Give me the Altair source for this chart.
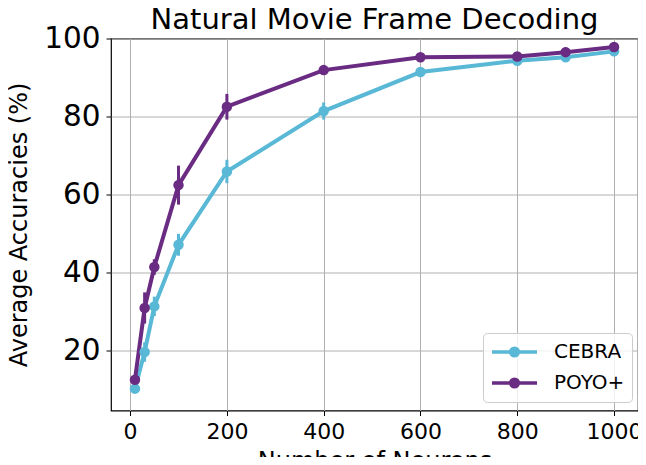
import altair as alt
import pandas as pd

neurons = [10, 30, 50, 100, 200, 400, 600, 800, 900, 1000]
cebra_mean = [10.3, 19.7, 31.4, 47.2, 66.0, 81.5, 91.5, 94.4, 95.3, 96.8]
cebra_err = [0.8, 2.5, 2.5, 2.8, 3.0, 2.2, 1.0, 0.8, 1.0, 0.8]
poyo_mean = [12.6, 31.0, 41.5, 62.5, 82.6, 92.0, 95.3, 95.5, 96.6, 97.9]
poyo_err = [1.0, 4.0, 2.0, 5.0, 3.3, 1.0, 0.5, 0.5, 1.2, 0.8]
models = ["CEBRA", "POYO+"]
colors = ["#58b8d5", "#6a2b82"]

rows = []
for m, means, errs in [("CEBRA", cebra_mean, cebra_err), ("POYO+", poyo_mean, poyo_err)]:
    for n, v, e in zip(neurons, means, errs):
        rows.append({"model": m, "n": n, "acc": v, "err": e})
df = pd.DataFrame(rows)

FONT = "DejaVu Sans"

legend_symbol = "M-1,0L1,0M0.17,0A0.17,0.17,0,1,1,-0.17,0A0.17,0.17,0,1,1,0.17,0Z"

xs = alt.Scale(domain=[-39.5, 1049.5], nice=False, zero=False)
ys = alt.Scale(domain=[4.7, 100.1], nice=False, zero=False)
cs = alt.Scale(domain=models, range=colors)

base = alt.Chart(df)

x_enc = alt.X("n:Q", scale=xs, title="Number of Neurons",
              axis=alt.Axis(values=[0, 200, 400, 600, 800, 1000], labelFontSize=22,
                            titleFontSize=24, labelPadding=6, titlePadding=7,
                            grid=True, format="d"))
y_enc = alt.Y("acc:Q", scale=ys, title="Average Accuracies (%)",
              axis=alt.Axis(values=[20, 40, 60, 80, 100], labelFontSize=29.5,
                            titleFontSize=24, labelPadding=6, titlePadding=12,
                            grid=True))

color_enc = alt.Color("model:N", scale=cs, title=None,
                      legend=alt.Legend(orient="none", legendX=372, legendY=294.5,
                                        symbolType=legend_symbol, symbolSize=2025,
                                        symbolStrokeWidth=3.5,
                                        labelFontSize=20, labelOffset=15,
                                        clipHeight=24, rowPadding=7, padding=7,
                                        fillColor="rgba(255,255,255,0.8)",
                                        strokeColor="#cccccc", cornerRadius=4))

errbars = base.transform_calculate(
    lo="datum.acc - datum.err", hi="datum.acc + datum.err"
).mark_rule(strokeWidth=3).encode(
    x=x_enc,
    y=alt.Y("lo:Q", scale=ys),
    y2="hi:Q",
    color=color_enc,
)

lines = base.mark_line(strokeWidth=4).encode(
    x=x_enc, y=y_enc, color=color_enc
)

points = base.mark_circle(size=110, opacity=1).encode(
    x=x_enc, y=y_enc, color=color_enc
)

chart = alt.layer(errbars, lines, points).properties(
    width=527, height=372,
    autosize=alt.AutoSizeParams(type="none"),
    padding={"left": 103, "top": 30.5, "right": 0, "bottom": 46},
    title=alt.TitleParams("Natural Movie Frame Decoding", fontSize=29, font=FONT,
                          fontWeight="normal", offset=-11,
                          anchor="middle", color="black"),
).configure_view(
    stroke="black", strokeWidth=1.2
).configure_axis(
    labelFont=FONT, titleFont=FONT, labelColor="black", titleColor="black",
    titleFontWeight="normal", domain=False, tickColor="black", tickSize=5,
    tickWidth=1, gridColor="#b0b0b0", gridWidth=1, gridOpacity=1
).configure_legend(
    labelFont=FONT, labelColor="black"
)

chart.save("out.html", embed_options={"renderer": "svg", "actions": False})
